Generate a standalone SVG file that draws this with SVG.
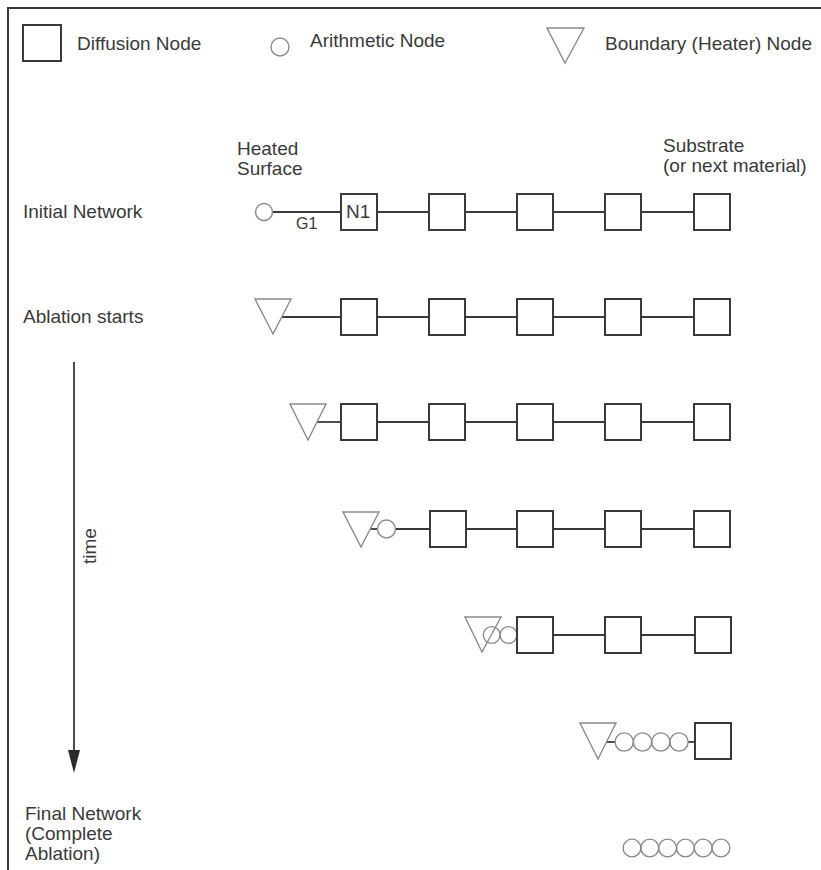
<svg xmlns="http://www.w3.org/2000/svg" width="821" height="870" viewBox="0 0 821 870">
<defs>
<style>
text{font-family:"Liberation Sans",Arial,sans-serif;font-size:19px;fill:#3a3a3a}
.sq{fill:none;stroke:#3a3a3a;stroke-width:2}
.ci{fill:none;stroke:#8a8a8a;stroke-width:1.4}
.tr{fill:none;stroke:#8a8a8a;stroke-width:1.4}
.ln{stroke:#3a3a3a;stroke-width:1.8;fill:none}
</style>
</defs>
<rect width="821" height="870" fill="#ffffff"/>
<path d="M8,870 V8 H821" fill="none" stroke="#3a3a3a" stroke-width="2"/>

<g id="legend">
<rect class="sq" x="23" y="25" width="38" height="36"/>
<text x="77" y="50">Diffusion Node</text>
<circle class="ci" cx="280" cy="47" r="9"/>
<text x="310" y="47">Arithmetic Node</text>
<polygon class="tr" points="547,28 584,28 565,63"/>
<text x="605" y="50">Boundary (Heater) Node</text>
</g>

<g id="labels">
<text x="237" y="155">Heated</text>
<text x="237" y="175">Surface</text>
<text x="663" y="152">Substrate</text>
<text x="663" y="172">(or next material)</text>
<text x="23" y="218">Initial Network</text>
<text x="23" y="323">Ablation starts</text>
<text x="25" y="820">Final Network</text>
<text x="25" y="840">(Complete</text>
<text x="25" y="860">Ablation)</text>
<text x="0" y="0" transform="translate(96,546) rotate(-90)" text-anchor="middle">time</text>
<text x="296" y="229" style="font-size:16px">G1</text>
</g>

<g id="connectors">
<line class="ln" x1="74" y1="362" x2="74" y2="752"/>
<polygon points="68,750 80,750 74,773" fill="#2a2a2a"/>
<!-- row 1 -->
<line class="ln" x1="273" y1="212" x2="341" y2="212"/>
<line class="ln" x1="377" y1="212" x2="429" y2="212"/>
<line class="ln" x1="465" y1="212" x2="517" y2="212"/>
<line class="ln" x1="553" y1="212" x2="605" y2="212"/>
<line class="ln" x1="641" y1="212" x2="694" y2="212"/>
<!-- row 2 -->
<line class="ln" x1="282" y1="317" x2="341" y2="317"/>
<line class="ln" x1="377" y1="317" x2="429" y2="317"/>
<line class="ln" x1="465" y1="317" x2="517" y2="317"/>
<line class="ln" x1="553" y1="317" x2="605" y2="317"/>
<line class="ln" x1="641" y1="317" x2="694" y2="317"/>
<!-- row 3 -->
<line class="ln" x1="317" y1="422" x2="341" y2="422"/>
<line class="ln" x1="377" y1="422" x2="429" y2="422"/>
<line class="ln" x1="465" y1="422" x2="517" y2="422"/>
<line class="ln" x1="553" y1="422" x2="605" y2="422"/>
<line class="ln" x1="641" y1="422" x2="694" y2="422"/>
<!-- row 4 -->
<line class="ln" x1="370" y1="529" x2="377" y2="529"/>
<line class="ln" x1="395.5" y1="529" x2="430" y2="529"/>
<line class="ln" x1="466" y1="529" x2="517" y2="529"/>
<line class="ln" x1="553" y1="529" x2="605" y2="529"/>
<line class="ln" x1="641" y1="529" x2="694" y2="529"/>
<!-- row 5 -->
<line class="ln" x1="553" y1="635" x2="605" y2="635"/>
<line class="ln" x1="641" y1="635" x2="695" y2="635"/>
<!-- row 6 -->
<line class="ln" x1="607" y1="742" x2="615" y2="742"/>
<line class="ln" x1="688" y1="742" x2="695" y2="742"/>
</g>

<g id="row1">
<circle class="ci" cx="264" cy="212" r="8.5"/>
<g id="N1"><rect class="sq" x="341" y="194" width="36" height="36"/><text x="346" y="218">N1</text></g>
<rect class="sq" x="429" y="194" width="36" height="36"/>
<rect class="sq" x="517" y="194" width="36" height="36"/>
<rect class="sq" x="605" y="194" width="36" height="36"/>
<rect class="sq" x="694" y="194" width="36" height="36"/>
</g>

<g id="row2">
<polygon class="tr" points="255,299 291,299 273,334"/>
<rect class="sq" x="341" y="299" width="36" height="36"/>
<rect class="sq" x="429" y="299" width="36" height="36"/>
<rect class="sq" x="517" y="299" width="36" height="36"/>
<rect class="sq" x="605" y="299" width="36" height="36"/>
<rect class="sq" x="694" y="299" width="36" height="36"/>
</g>

<g id="row3">
<polygon class="tr" points="290,404 326,404 308,440"/>
<rect class="sq" x="341" y="404" width="36" height="36"/>
<rect class="sq" x="429" y="404" width="36" height="36"/>
<rect class="sq" x="517" y="404" width="36" height="36"/>
<rect class="sq" x="605" y="404" width="36" height="36"/>
<rect class="sq" x="694" y="404" width="36" height="36"/>
</g>

<g id="row4">
<polygon class="tr" points="343,512 379,512 361,547"/>
<circle class="ci" cx="386.5" cy="529" r="9"/>
<rect class="sq" x="430" y="511" width="36" height="36"/>
<rect class="sq" x="517" y="511" width="36" height="36"/>
<rect class="sq" x="605" y="511" width="36" height="36"/>
<rect class="sq" x="694" y="511" width="36" height="36"/>
</g>

<g id="row5">
<polygon class="tr" points="465,617 501,617 482,652"/>
<circle class="ci" cx="491.7" cy="635" r="8.4"/>
<circle class="ci" cx="508.5" cy="635" r="8.4"/>
<rect class="sq" x="517" y="617" width="36" height="36"/>
<rect class="sq" x="605" y="617" width="36" height="36"/>
<rect class="sq" x="695" y="617" width="36" height="36"/>
</g>

<g id="row6">
<polygon class="tr" points="580,723 616,723 598,759"/>
<circle class="ci" cx="624.2" cy="742" r="9.1"/>
<circle class="ci" cx="642.5" cy="742" r="9.1"/>
<circle class="ci" cx="660.8" cy="742" r="9.1"/>
<circle class="ci" cx="679" cy="742" r="9.1"/>
<rect class="sq" x="695" y="723" width="36" height="36"/>
</g>

<g id="row7">
<circle class="ci" cx="632" cy="848" r="8.9"/>
<circle class="ci" cx="649.8" cy="848" r="8.9"/>
<circle class="ci" cx="667.6" cy="848" r="8.9"/>
<circle class="ci" cx="685.4" cy="848" r="8.9"/>
<circle class="ci" cx="703.2" cy="848" r="8.9"/>
<circle class="ci" cx="721" cy="848" r="8.9"/>
</g>
</svg>
